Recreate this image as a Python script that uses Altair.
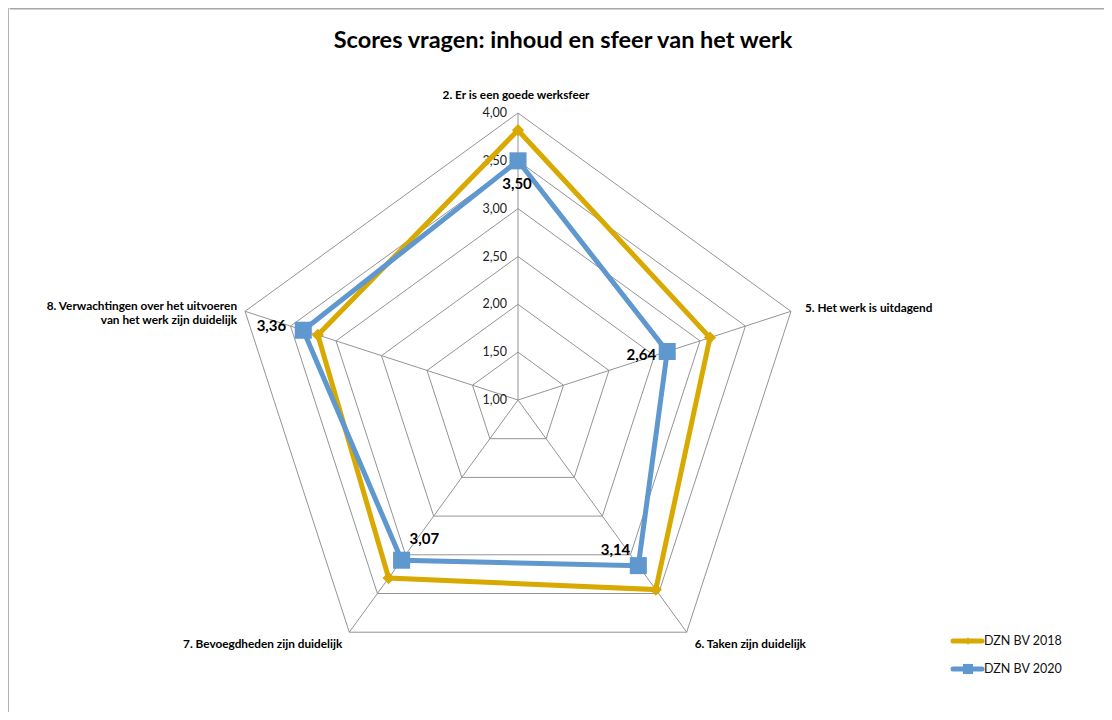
import altair as alt
import pandas as pd

# ---------------- data ----------------
categories = [
    "2. Er is een goede werksfeer",
    "5. Het werk is uitdagend",
    "6. Taken zijn duidelijk",
    "7. Bevoegdheden zijn duidelijk",
    "8. Verwachtingen over het uitvoeren\nvan het werk zijn duidelijk",
]
series_names = ["DZN BV 2018", "DZN BV 2020"]
values_2018 = [3.82, 3.11, 3.45, 3.30, 3.20]
values_2020 = [3.50, 2.64, 3.14, 3.07, 3.36]
value_labels_2020 = ["3,50", "2,64", "3,14", "3,07", "3,36"]
grid_levels = [1.0, 1.5, 2.0, 2.5, 3.0, 3.5, 4.0]
tick_labels = ["1,00", "1,50", "2,00", "2,50", "3,00", "3,50", "4,00"]
title_text = "Scores vragen: inhoud en sfeer van het werk"

# ---------------- frames ----------------
n = len(categories)
rows = []
for s, vals in zip(series_names, [values_2018, values_2020]):
    for i in range(n + 1):
        rows.append({"series": s, "idx": i, "value": vals[i % n],
                     "label": value_labels_2020[i % n] if s == series_names[1] else ""})
series_df = pd.DataFrame(rows)

grid_df = pd.DataFrame([{"level": lv, "idx": j, "value": lv}
                        for lv in grid_levels[1:] for j in range(n + 1)])
spoke_df = pd.DataFrame([{"idx": i, "value": grid_levels[-1]} for i in range(n)])
tick_df = pd.DataFrame({"value": grid_levels, "text": tick_labels})
cat_df = pd.DataFrame({"idx": list(range(n)), "value": [grid_levels[-1]] * n,
                       "category": categories})

# ---------------- geometry ----------------
W, H = 1096, 704
K = 287 / 3.0
CX, CY = 510, 392
xdom = [-CX / K, (W - CX) / K]
ydom = [-(H - CY) / K, CY / K]
FONT = "Lato"
GOLD = "#D8A900"
BLUE = "#5F97CF"
GRID = "#949494"

X = alt.X("x:Q", scale=alt.Scale(domain=xdom, nice=False, zero=False), axis=None)
Y = alt.Y("y:Q", scale=alt.Scale(domain=ydom, nice=False, zero=False), axis=None)
polar = dict(
    x="(datum.value - 1) * sin(datum.idx * 2 * PI / 5)",
    y="(datum.value - 1) * cos(datum.idx * 2 * PI / 5)",
)

grid = alt.Chart(grid_df).transform_calculate(**polar).mark_line(
    color=GRID, strokeWidth=1).encode(
    x=X, y=Y, detail="level:N", order="idx:Q")

spokes = alt.Chart(spoke_df).transform_calculate(**polar).transform_calculate(
    x0="0", y0="0").mark_rule(color=GRID, strokeWidth=1).encode(
    x=alt.X("x0:Q", scale=alt.Scale(domain=xdom, nice=False, zero=False), axis=None),
    y=alt.Y("y0:Q", scale=alt.Scale(domain=ydom, nice=False, zero=False), axis=None),
    x2="x:Q", y2="y:Q")

ticks = alt.Chart(tick_df).transform_calculate(x="0", y="datum.value - 1").mark_text(
    align="right", baseline="middle", dx=-11, fontSize=12.5, font=FONT,
    color="#222222").encode(x=X, y=Y, text="text:N")

layers = [grid, spokes, ticks]

colors = {series_names[0]: GOLD, series_names[1]: BLUE}
shapes = {series_names[0]: ("diamond", 150), series_names[1]: ("square", 290)}
for s in series_names:
    base = alt.Chart(series_df).transform_filter(
        alt.datum.series == s).transform_calculate(**polar)
    layers.append(base.mark_line(color=colors[s], strokeWidth=5).encode(
        x=X, y=Y, order="idx:Q"))
    shp, sz = shapes[s]
    layers.append(base.transform_filter(alt.datum.idx < n).mark_point(
        shape=shp, size=sz, filled=True, opacity=1, color=colors[s]).encode(x=X, y=Y))

# value labels (2020)
val_layout = {0: (-1, 23, "center"), 1: (-11, 3, "right"), 2: (-8, -16, "right"),
              3: (8, -21, "left"), 4: (-17, -4, "right")}
for i, (dx, dy, al) in val_layout.items():
    layers.append(alt.Chart(series_df).transform_filter(
        (alt.datum.series == series_names[1]) & (alt.datum.idx == i)
    ).transform_calculate(**polar).mark_text(
        dx=dx, dy=dy, align=al, baseline="middle", fontSize=15,
        fontWeight="bold", font=FONT, color="#000000").encode(
        x=X, y=Y, text="label:N"))

# category labels
cat_layout = {0: (-2, -18, "center"), 1: (14, -3, "left"), 2: (8, 12, "left"),
              3: (-7, 12, "right"), 4: (-8, -5, "right")}
for i, (dx, dy, al) in cat_layout.items():
    layers.append(alt.Chart(cat_df).transform_filter(alt.datum.idx == i)
                  .transform_calculate(**polar).mark_text(
        dx=dx, dy=dy, align=al, baseline="middle", fontSize=11.8,
        fontWeight="bold", font=FONT, color="#000000", lineBreak="\n",
        lineHeight=14).encode(x=X, y=Y, text="category:N"))

# title
layers.append(alt.Chart(pd.DataFrame({"t": [title_text]})).mark_text(
    fontSize=23.5, fontWeight="bold", font=FONT, color="#000000",
    align="center", baseline="middle").encode(
    x=alt.value(555), y=alt.value(33), text="t:N"))

# legend (manual, Excel style)
for k, s in enumerate(series_names):
    ly = 633 + 28 * k
    ldf = pd.DataFrame({"name": [s]})
    layers.append(alt.Chart(ldf).mark_rule(color=colors[s], strokeWidth=5,
                                            strokeCap="round").encode(
        x=alt.value(945), x2=alt.value(974), y=alt.value(ly)))
    shp, sz = shapes[s]
    layers.append(alt.Chart(ldf).mark_point(shape=shp, size=sz * 0.35, filled=True,
                                             opacity=1, color=colors[s]).encode(
        x=alt.value(960), y=alt.value(ly)))
    layers.append(alt.Chart(ldf).mark_text(align="left", baseline="middle",
                                            fontSize=12.5, font=FONT,
                                            color="#111111").encode(
        x=alt.value(976), y=alt.value(ly), text="name:N"))

# page frame (top/left border)
fdf = pd.DataFrame({"a": [0]})
layers.append(alt.Chart(fdf).mark_rule(color="#a6a6a6", strokeWidth=3).encode(
    x=alt.value(2), x2=alt.value(W), y=alt.value(0)))
layers.append(alt.Chart(fdf).mark_rule(color="#a6a6a6", strokeWidth=1.5).encode(
    x=alt.value(0), y=alt.value(0), y2=alt.value(H)))

chart = alt.layer(*layers).properties(
    width=W, height=H, padding=0, autosize=alt.AutoSizeParams(type="none")
).configure_view(stroke=None).configure(background="white")

chart.save("out.html", embed_options={"renderer": "svg", "actions": False})
